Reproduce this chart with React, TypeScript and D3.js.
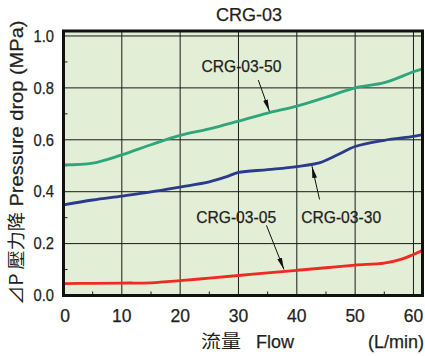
import React from "react";
import * as d3 from "d3";

const flowTicks = [0, 10, 20, 30, 40, 50, 60];
const flowMinor = [5, 15, 25, 35, 45, 55];
const dpTicks = [0, 0.2, 0.4, 0.6, 0.8, 1.0];
const dpMinor = [0.1, 0.3, 0.5, 0.7, 0.9];

const crg50Flow = [0, 5, 10, 15, 20, 25, 30, 35, 40, 45, 50, 55, 60, 61.6];
const crg50Dp = [0.503, 0.51, 0.542, 0.581, 0.617, 0.642, 0.672, 0.703, 0.73, 0.764, 0.8, 0.82, 0.862, 0.873];

const crg30Flow = [0, 5, 10, 15, 20, 25, 28, 30, 35, 40, 44, 47, 50, 55, 60, 61.6];
const crg30Dp = [0.349, 0.368, 0.383, 0.399, 0.418, 0.438, 0.458, 0.474, 0.485, 0.497, 0.512, 0.542, 0.574, 0.598, 0.613, 0.62];

const crg05Flow = [0, 5, 10, 15, 20, 25, 30, 35, 40, 45, 50, 55, 58, 60, 61.6];
const crg05Dp = [0.046, 0.047, 0.048, 0.049, 0.057, 0.067, 0.077, 0.087, 0.097, 0.107, 0.117, 0.125, 0.14, 0.158, 0.174];

const seriesNames = ["CRG-03-50", "CRG-03-30", "CRG-03-05"];

const W = 425;
const H = 356;
const left = 63.5;
const right = 422.5;
const top = 31;
const bottom = 295.5;

const FONT = "'Liberation Sans', Arial, Helvetica, 'Noto Sans CJK TC', sans-serif";
const TEXT = "#231f20";

export default function App() {
  const x = d3.scaleLinear().domain([0, 61.55]).range([left, right]);
  const y = d3.scaleLinear().domain([0, 1.0192]).range([bottom, top]);

  const line = d3
    .line<[number, number]>()
    .x((d) => x(d[0]))
    .y((d) => y(d[1]))
    .curve(d3.curveCatmullRom.alpha(0.5));

  const series = [
    { name: seriesNames[0], fx: crg50Flow, fy: crg50Dp, color: "#2fa57b" },
    { name: seriesNames[1], fx: crg30Flow, fy: crg30Dp, color: "#2a3a8c" },
    { name: seriesNames[2], fx: crg05Flow, fy: crg05Dp, color: "#ee2a23" },
  ];

  // annotation layout in data coordinates: label center, arrow start, arrow tip
  const notes = [
    { text: seriesNames[0], lx: 30.5, ly: 0.885, ax0: 33.4, ay0: 0.83, ax1: 35.3, ay1: 0.71 },
    { text: seriesNames[1], lx: 47.6, ly: 0.3, ax0: 43.9, ay0: 0.37, ax1: 42.6, ay1: 0.498 },
    { text: seriesNames[2], lx: 29.6, ly: 0.3, ax0: 34.8, ay0: 0.27, ax1: 37.8, ay1: 0.1 },
  ];

  const ts = { stroke: TEXT, strokeWidth: 0.25 } as const;

  return (
    <svg width={W} height={H} style={{ position: "absolute", left: 0, top: 0 }} fontFamily={FONT}>
      <defs>
        <marker id="arr" viewBox="0 0 12 6" refX="12" refY="3" markerWidth="12" markerHeight="6" markerUnits="userSpaceOnUse" orient="auto">
          <path d="M0,0.6 L12,3 L0,5.4 Z" fill="#111" />
        </marker>
        <clipPath id="plot">
          <rect x={left} y={top} width={right - left} height={bottom - top} />
        </clipPath>
      </defs>
      <rect x={left} y={top} width={right - left} height={bottom - top} fill="#e2eed5" />
      {flowTicks.slice(1).map((t) => (
        <line key={"gx" + t} x1={x(t)} x2={x(t)} y1={top} y2={bottom} stroke="#1a1a1a" strokeWidth={1} />
      ))}
      {dpTicks.slice(1).map((t) => (
        <line key={"gy" + t} x1={left} x2={right} y1={y(t)} y2={y(t)} stroke="#1a1a1a" strokeWidth={1} />
      ))}
      {flowMinor.map((t) => (
        <line key={"mx" + t} x1={x(t)} x2={x(t)} y1={bottom} y2={bottom - 4} stroke="#1a1a1a" strokeWidth={1} />
      ))}
      {dpMinor.map((t) => (
        <line key={"my" + t} x1={left} x2={left + 4} y1={y(t)} y2={y(t)} stroke="#1a1a1a" strokeWidth={1} />
      ))}
      <g clipPath="url(#plot)">
        {series.map((s) => (
          <path
            key={s.name}
            d={line(s.fx.map((f, i) => [f, s.fy[i]] as [number, number])) || ""}
            fill="none"
            stroke={s.color}
            strokeWidth={2.8}
            strokeLinecap="round"
          />
        ))}
      </g>
      <rect x={left} y={top} width={right - left} height={bottom - top} fill="none" stroke="#111" strokeWidth={3} />

      {notes.map((n) => (
        <g key={n.text}>
          <text x={x(n.lx)} y={y(n.ly)} dy="0.36em" textAnchor="middle" fontSize={16} fill={TEXT} {...ts} textLength={80} lengthAdjust="spacingAndGlyphs">
            {n.text}
          </text>
          <line x1={x(n.ax0)} y1={y(n.ay0)} x2={x(n.ax1)} y2={y(n.ay1)} stroke="#111" strokeWidth={1} markerEnd="url(#arr)" />
        </g>
      ))}

      {dpTicks.map((t) => (
        <text key={"ly" + t} x={54} y={y(t)} dy="0.36em" textAnchor="end" fontSize={16} fill={TEXT} {...ts} textLength={20.5} lengthAdjust="spacingAndGlyphs">
          {t.toFixed(1)}
        </text>
      ))}
      {flowTicks.map((t) => (
        <text key={"lx" + t} x={x(t) + (t === 0 ? 1.5 : 0)} y={322} textAnchor="middle" fontSize={17.5} fill={TEXT} {...ts}>
          {t}
        </text>
      ))}

      <text x={249} y={20.5} textAnchor="middle" fontSize={18} fill={TEXT} {...ts}>
        CRG-03
      </text>

      <text x={201} y={348} fontSize={18} fill={TEXT} fontFamily="'Noto Sans CJK TC', sans-serif" textLength={40} lengthAdjust="spacingAndGlyphs">
        流量
      </text>
      <text x={256} y={348} fontSize={18} fill={TEXT} {...ts}>
        Flow
      </text>
      <text x={424} y={348} textAnchor="end" fontSize={18} fill={TEXT} {...ts}>
        (L/min)
      </text>

      <g transform="translate(23,0)">
        <text transform="rotate(-90)" x={-305} y={0} fontSize={18} fill={TEXT} fontFamily="'Noto Sans CJK TC', sans-serif" textLength={93} lengthAdjust="spacingAndGlyphs">
          ⊿P 壓力降
        </text>
        <text transform="rotate(-90)" x={-206.5} y={0} fontSize={19} fill={TEXT} {...ts} textLength={186} lengthAdjust="spacingAndGlyphs">
          Pressure drop (MPa)
        </text>
      </g>
    </svg>
  );
}
